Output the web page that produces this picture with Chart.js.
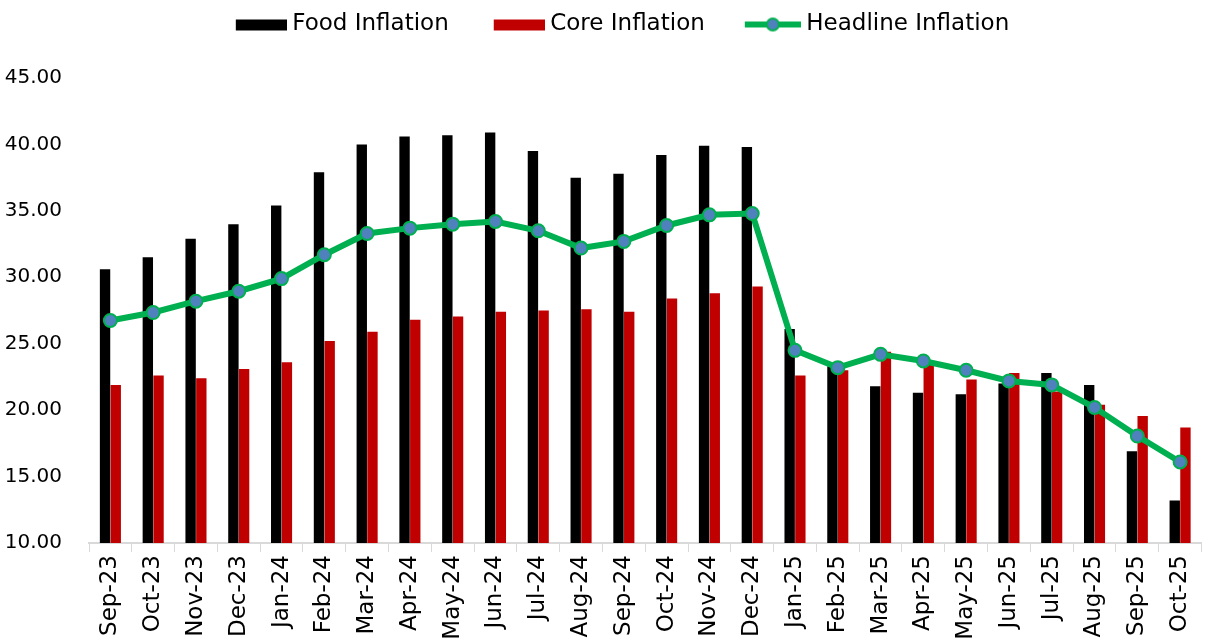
<!DOCTYPE html>
<html>
<head>
<meta charset="utf-8">
<script src="https://cdn.jsdelivr.net/npm/chart.js"></script>
<style>
  html, body { margin: 0; padding: 0; background: #fff; }
  #wrap { width: 1210px; height: 642px; }
</style>
</head>
<body>
<div id="wrap"><canvas id="chart"></canvas></div>
<script>
// values
const months = ["Sep-23", "Oct-23", "Nov-23", "Dec-23", "Jan-24", "Feb-24", "Mar-24", "Apr-24", "May-24",
  "Jun-24", "Jul-24", "Aug-24", "Sep-24", "Oct-24", "Nov-24", "Dec-24", "Jan-25", "Feb-25", "Mar-25",
  "Apr-25", "May-25", "Jun-25", "Jul-25", "Aug-25", "Sep-25", "Oct-25"];
const foodInflation = [30.6, 31.5, 32.9, 34.0, 35.4, 37.9, 40.0, 40.6, 40.7, 40.9, 39.5, 37.5, 37.8,
  39.2, 39.9, 39.8, 26.1, 23.3, 21.8, 21.3, 21.2, 22.0, 22.8, 21.9, 16.9, 13.2];
const coreInflation = [21.9, 22.6, 22.4, 23.1, 23.6, 25.2, 25.9, 26.8, 27.05, 27.4, 27.5, 27.6, 27.4,
  28.4, 28.8, 29.3, 22.6, 23.0, 24.4, 23.6, 22.3, 22.8, 21.4, 20.4, 19.55, 18.7];
const headlineInflation = [26.75, 27.35, 28.2, 28.95, 29.9, 31.7, 33.3, 33.7, 34.0, 34.2, 33.5, 32.2, 32.7,
  33.9, 34.7, 34.8, 24.5, 23.2, 24.2, 23.7, 23.0, 22.2, 21.9, 20.2, 18.05, 16.1];

const FONT = "'DejaVu Sans', sans-serif";
const GREEN = "#00B050", BLUE = "#4F81BD", RED = "#C00000";

// legend swatches (symbol on the right part so the gaps look like Excel's)
function swatch(draw) {
  const c = document.createElement("canvas");
  c.width = 92; c.height = 20;
  draw(c.getContext("2d"));
  return c;
}
const swatches = [
  swatch(g => { g.fillStyle = "#000"; g.fillRect(41, 5, 51, 11); }),
  swatch(g => { g.fillStyle = RED; g.fillRect(41, 5, 51, 11); }),
  swatch(g => {
    g.strokeStyle = GREEN; g.lineWidth = 6;
    g.beginPath(); g.moveTo(36, 10); g.lineTo(92, 10); g.stroke();
    g.beginPath(); g.arc(64, 10, 6, 0, Math.PI * 2);
    g.fillStyle = BLUE; g.fill(); g.lineWidth = 2; g.stroke();
  })
];

// push the plot area down below the legend
const legendSpace = {
  id: "legendSpace",
  beforeInit(chart) {
    const fit = chart.legend.fit;
    chart.legend.fit = function () { fit.call(this); this.height += 32; };
  }
};

new Chart(document.getElementById("chart"), {
  type: "bar",
  data: {
    labels: months,
    datasets: [
      { label: "Food Inflation", data: foodInflation, backgroundColor: "#000", order: 1,
        barPercentage: 0.97, categoryPercentage: 0.5 },
      { label: "Core Inflation", data: coreInflation, backgroundColor: RED, order: 1,
        barPercentage: 0.97, categoryPercentage: 0.5 },
      { type: "line", label: "Headline Inflation", data: headlineInflation, order: 0,
        borderColor: GREEN, borderWidth: 6, tension: 0,
        pointRadius: 6.5, pointBackgroundColor: BLUE, pointBorderColor: GREEN, pointBorderWidth: 2 }
    ]
  },
  options: {
    responsive: true,
    maintainAspectRatio: false,
    animation: false,
    layout: { padding: { top: 3, left: 0, right: 0, bottom: 0 } },
    plugins: {
      tooltip: { enabled: false },
      legend: {
        position: "top",
        labels: {
          usePointStyle: true,
          pointStyleWidth: 80,
          boxHeight: 23,
          padding: 10,
          color: "#000",
          font: { family: FONT, size: 23 },
          generateLabels: chart => chart.data.datasets.map((ds, i) => ({
            text: ds.label, pointStyle: swatches[i], datasetIndex: i, hidden: false,
            fontColor: "#000", lineWidth: 0, strokeStyle: "rgba(0,0,0,0)", fillStyle: "rgba(0,0,0,0)"
          }))
        }
      }
    },
    scales: {
      x: {
        offset: true,
        grid: { offset: true, drawOnChartArea: false, drawTicks: true, tickLength: 9, color: "#d9d9d9" },
        border: { display: true, color: "#d9d9d9", width: 2 },
        ticks: { autoSkip: false, maxRotation: 90, minRotation: 90, padding: 3, color: "#000",
          font: { family: FONT, size: 23 } },
        afterFit(scale) { scale.height = 99; scale.paddingLeft = 0; scale.paddingRight = 0; }
      },
      y: {
        min: 10, max: 45,
        grid: { display: false, drawTicks: false },
        border: { display: false },
        ticks: { stepSize: 5, padding: 27, color: "#000", font: { family: FONT, size: 20 },
          callback: v => v.toFixed(2) },
        afterFit(scale) { scale.width = 89; scale.paddingTop = 0; scale.paddingBottom = 0; }
      }
    }
  },
  plugins: [legendSpace]
});
</script>
</body>
</html>
